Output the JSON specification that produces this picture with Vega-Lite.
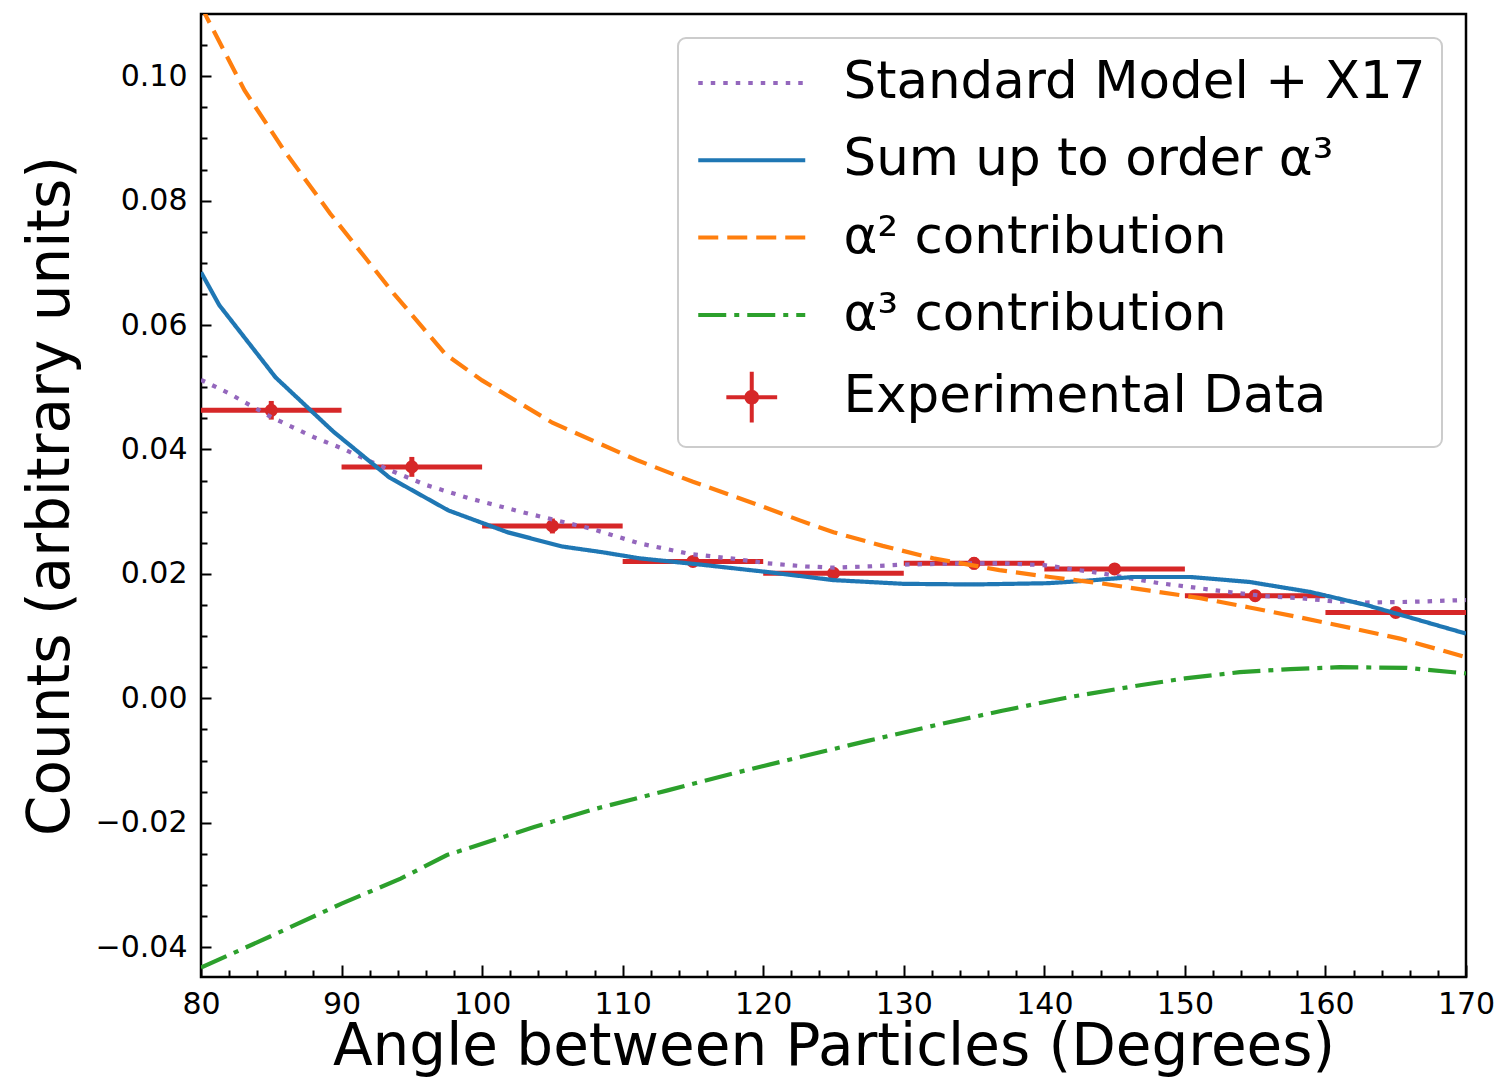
{
  "$schema": "https://vega.github.io/schema/vega-lite/v6.json",
  "width": 1265,
  "height": 963,
  "autosize": {"type": "none"},
  "padding": {"left": 201, "top": 14, "right": 37, "bottom": 108},
  "background": "white",
  "config": {
    "font": "DejaVu Sans",
    "view": {"stroke": "black", "strokeWidth": 2.5},
    "axis": {
      "grid": false, "domain": false,
      "labelFont": "DejaVu Sans", "titleFont": "DejaVu Sans",
      "labelColor": "black", "titleColor": "black", "tickColor": "black",
      "titleFontWeight": "normal", "labelFontSize": 30, "titleFontSize": 58,
      "tickWidth": 2, "labelOverlap": false, "labelFlush": false, "zindex": 1
    },
    "legend": {
      "orient": "top-right", "offset": 24, "title": null,
      "labelFont": "DejaVu Sans", "labelFontSize": 51.5, "labelColor": "black", "labelLimit": 1000,
      "symbolSize": 2862, "symbolStrokeWidth": 4, "symbolType": "stroke",
      "padding": 16, "rowPadding": 22.3, "labelOffset": 62.75, "symbolOffset": 28.75,
      "strokeColor": "#cccccc", "strokeWidth": 2, "fillColor": "white", "cornerRadius": 8
    }
  },
  "datasets": {
    "lines": [
      {"s": "Standard Model + X17", "x": 80, "y": 0.0512},
      {"s": "Standard Model + X17", "x": 82, "y": 0.0490},
      {"s": "Standard Model + X17", "x": 85, "y": 0.0452},
      {"s": "Standard Model + X17", "x": 88, "y": 0.0420},
      {"s": "Standard Model + X17", "x": 90, "y": 0.0402},
      {"s": "Standard Model + X17", "x": 93.4, "y": 0.0367},
      {"s": "Standard Model + X17", "x": 96, "y": 0.0343},
      {"s": "Standard Model + X17", "x": 99, "y": 0.0322},
      {"s": "Standard Model + X17", "x": 102.9, "y": 0.0299},
      {"s": "Standard Model + X17", "x": 107.7, "y": 0.0273},
      {"s": "Standard Model + X17", "x": 111.2, "y": 0.0249},
      {"s": "Standard Model + X17", "x": 114.8, "y": 0.0232},
      {"s": "Standard Model + X17", "x": 118, "y": 0.0224},
      {"s": "Standard Model + X17", "x": 120.3, "y": 0.0217},
      {"s": "Standard Model + X17", "x": 123, "y": 0.0212},
      {"s": "Standard Model + X17", "x": 125, "y": 0.0210},
      {"s": "Standard Model + X17", "x": 127.5, "y": 0.0212},
      {"s": "Standard Model + X17", "x": 130, "y": 0.0215},
      {"s": "Standard Model + X17", "x": 134.5, "y": 0.0217},
      {"s": "Standard Model + X17", "x": 137, "y": 0.0217},
      {"s": "Standard Model + X17", "x": 140, "y": 0.0214},
      {"s": "Standard Model + X17", "x": 144, "y": 0.0201},
      {"s": "Standard Model + X17", "x": 148.2, "y": 0.0185},
      {"s": "Standard Model + X17", "x": 150, "y": 0.0180},
      {"s": "Standard Model + X17", "x": 153.4, "y": 0.0170},
      {"s": "Standard Model + X17", "x": 155.8, "y": 0.0164},
      {"s": "Standard Model + X17", "x": 158.2, "y": 0.0161},
      {"s": "Standard Model + X17", "x": 160.5, "y": 0.0156},
      {"s": "Standard Model + X17", "x": 162.9, "y": 0.0154},
      {"s": "Standard Model + X17", "x": 166, "y": 0.0155},
      {"s": "Standard Model + X17", "x": 170, "y": 0.0158},
      {"s": "Sum up to order α³", "x": 80, "y": 0.0685},
      {"s": "Sum up to order α³", "x": 81.3, "y": 0.0632},
      {"s": "Sum up to order α³", "x": 85.3, "y": 0.0516},
      {"s": "Sum up to order α³", "x": 89.4, "y": 0.0429},
      {"s": "Sum up to order α³", "x": 93.4, "y": 0.0355},
      {"s": "Sum up to order α³", "x": 97.6, "y": 0.0302},
      {"s": "Sum up to order α³", "x": 101.8, "y": 0.0267},
      {"s": "Sum up to order α³", "x": 105.7, "y": 0.0244},
      {"s": "Sum up to order α³", "x": 108.5, "y": 0.0235},
      {"s": "Sum up to order α³", "x": 111.2, "y": 0.0225},
      {"s": "Sum up to order α³", "x": 115.5, "y": 0.0215},
      {"s": "Sum up to order α³", "x": 120.3, "y": 0.0203},
      {"s": "Sum up to order α³", "x": 125, "y": 0.0190},
      {"s": "Sum up to order α³", "x": 130, "y": 0.0184},
      {"s": "Sum up to order α³", "x": 135, "y": 0.0183},
      {"s": "Sum up to order α³", "x": 140.2, "y": 0.0185},
      {"s": "Sum up to order α³", "x": 143, "y": 0.0189},
      {"s": "Sum up to order α³", "x": 146.3, "y": 0.0195},
      {"s": "Sum up to order α³", "x": 150.4, "y": 0.0195},
      {"s": "Sum up to order α³", "x": 154.6, "y": 0.0187},
      {"s": "Sum up to order α³", "x": 158.9, "y": 0.0171},
      {"s": "Sum up to order α³", "x": 162.9, "y": 0.0150},
      {"s": "Sum up to order α³", "x": 166, "y": 0.0130},
      {"s": "Sum up to order α³", "x": 170, "y": 0.0104},
      {"s": "α² contribution", "x": 80, "y": 0.1115},
      {"s": "α² contribution", "x": 80.4, "y": 0.1095},
      {"s": "α² contribution", "x": 83.1, "y": 0.0977},
      {"s": "α² contribution", "x": 85.9, "y": 0.0881},
      {"s": "α² contribution", "x": 89.2, "y": 0.0779},
      {"s": "α² contribution", "x": 93.7, "y": 0.0651},
      {"s": "α² contribution", "x": 97.4, "y": 0.0553},
      {"s": "α² contribution", "x": 100, "y": 0.0511},
      {"s": "α² contribution", "x": 105, "y": 0.0443},
      {"s": "α² contribution", "x": 111, "y": 0.0383},
      {"s": "α² contribution", "x": 115, "y": 0.0348},
      {"s": "α² contribution", "x": 120, "y": 0.0308},
      {"s": "α² contribution", "x": 122.6, "y": 0.0286},
      {"s": "α² contribution", "x": 125, "y": 0.0267},
      {"s": "α² contribution", "x": 128.5, "y": 0.0245},
      {"s": "α² contribution", "x": 132.1, "y": 0.0225},
      {"s": "α² contribution", "x": 136.8, "y": 0.0206},
      {"s": "α² contribution", "x": 140.4, "y": 0.0195},
      {"s": "α² contribution", "x": 144, "y": 0.0185},
      {"s": "α² contribution", "x": 147.5, "y": 0.0173},
      {"s": "α² contribution", "x": 151.1, "y": 0.0161},
      {"s": "α² contribution", "x": 154.6, "y": 0.0146},
      {"s": "α² contribution", "x": 158.2, "y": 0.0130},
      {"s": "α² contribution", "x": 161.8, "y": 0.0113},
      {"s": "α² contribution", "x": 165.3, "y": 0.0096},
      {"s": "α² contribution", "x": 170, "y": 0.0066},
      {"s": "α³ contribution", "x": 80, "y": -0.0433},
      {"s": "α³ contribution", "x": 85, "y": -0.0382},
      {"s": "α³ contribution", "x": 90, "y": -0.0330},
      {"s": "α³ contribution", "x": 94.2, "y": -0.0290},
      {"s": "α³ contribution", "x": 97.5, "y": -0.0252},
      {"s": "α³ contribution", "x": 103.7, "y": -0.0207},
      {"s": "α³ contribution", "x": 108, "y": -0.0178},
      {"s": "α³ contribution", "x": 113.2, "y": -0.0148},
      {"s": "α³ contribution", "x": 118, "y": -0.0120},
      {"s": "α³ contribution", "x": 122.7, "y": -0.0094},
      {"s": "α³ contribution", "x": 127.5, "y": -0.0068},
      {"s": "α³ contribution", "x": 132.3, "y": -0.0043},
      {"s": "α³ contribution", "x": 137, "y": -0.0020},
      {"s": "α³ contribution", "x": 141.8, "y": 0.0002},
      {"s": "α³ contribution", "x": 146.8, "y": 0.0021},
      {"s": "α³ contribution", "x": 150, "y": 0.0032},
      {"s": "α³ contribution", "x": 153.9, "y": 0.0042},
      {"s": "α³ contribution", "x": 157.5, "y": 0.0047},
      {"s": "α³ contribution", "x": 161, "y": 0.0050},
      {"s": "α³ contribution", "x": 165.8, "y": 0.0049},
      {"s": "α³ contribution", "x": 170, "y": 0.0040}
    ],
    "data": [
      {"x": 85, "xlo": 80, "xhi": 90, "y": 0.0463, "ylo": 0.0448, "yhi": 0.0478},
      {"x": 95, "xlo": 90, "xhi": 100, "y": 0.0372, "ylo": 0.0356, "yhi": 0.0388},
      {"x": 105, "xlo": 100, "xhi": 110, "y": 0.0277, "ylo": 0.0265, "yhi": 0.0289},
      {"x": 115, "xlo": 110, "xhi": 120, "y": 0.0220, "ylo": 0.0212, "yhi": 0.0228},
      {"x": 125, "xlo": 120, "xhi": 130, "y": 0.0201, "ylo": 0.0193, "yhi": 0.0209},
      {"x": 135, "xlo": 130, "xhi": 140, "y": 0.0217, "ylo": 0.0207, "yhi": 0.0227},
      {"x": 145, "xlo": 140, "xhi": 150, "y": 0.0208, "ylo": 0.0199, "yhi": 0.0217},
      {"x": 155, "xlo": 150, "xhi": 160, "y": 0.0165, "ylo": 0.0158, "yhi": 0.0172},
      {"x": 165, "xlo": 160, "xhi": 170, "y": 0.0138, "ylo": 0.0131, "yhi": 0.0145}
    ]
  },
  "resolve": {"axis": {"x": "independent", "y": "independent"}},
  "layer": [
    {
      "mark": {"type": "rule", "color": "black", "strokeWidth": 3.5},
      "encoding": {
        "y": {
          "datum": 0, "type": "quantitative",
          "scale": {"domain": [-0.0448, 0.11], "nice": false, "zero": false},
          "axis": {
            "orient": "left", "title": null, "labels": false, "tickSize": -6,
            "values": [-0.035, -0.03, -0.025, -0.015, -0.01, -0.005, 0.005, 0.01, 0.015, 0.025, 0.03, 0.035, 0.045, 0.05, 0.055, 0.065, 0.07, 0.075, 0.085, 0.09, 0.095, 0.105]
          }
        }
      }
    },
    {
      "data": {"name": "data"},
      "mark": {"type": "rule", "color": "#d62728", "strokeWidth": 5, "clip": true},
      "encoding": {
        "x": {
          "field": "xlo", "type": "quantitative",
          "scale": {"domain": [80, 170], "nice": false, "zero": false},
          "axis": {
            "orient": "bottom", "title": null, "labels": false, "tickSize": -7,
            "values": [82, 84, 86, 88, 92, 94, 96, 98, 102, 104, 106, 108, 112, 114, 116, 118, 122, 124, 126, 128, 132, 134, 136, 138, 142, 144, 146, 148, 152, 154, 156, 158, 162, 164, 166, 168]
          }
        },
        "x2": {"field": "xhi"},
        "y": {"field": "y", "type": "quantitative", "axis": null}
      }
    },
    {
      "data": {"name": "data"},
      "mark": {"type": "rule", "color": "#d62728", "strokeWidth": 5},
      "encoding": {
        "x": {"field": "x", "type": "quantitative", "axis": null},
        "y": {"field": "ylo", "type": "quantitative", "axis": null},
        "y2": {"field": "yhi"}
      }
    },
    {
      "data": {"name": "data"},
      "mark": {"type": "point", "filled": true, "color": "#d62728", "size": 170, "opacity": 1},
      "encoding": {
        "x": {"field": "x", "type": "quantitative", "axis": null},
        "y": {"field": "y", "type": "quantitative", "axis": null}
      }
    },
    {
      "data": {"name": "lines"},
      "mark": {"type": "line", "strokeWidth": 4.2, "clip": true},
      "encoding": {
        "x": {
          "field": "x", "type": "quantitative",
          "axis": {
            "orient": "bottom", "values": [80, 90, 100, 110, 120, 130, 140, 150, 160, 170],
            "title": "Angle between Particles (Degrees)", "tickSize": -12, "labelPadding": 24,
            "titleY": 87, "titleBaseline": "alphabetic"
          }
        },
        "y": {
          "field": "y", "type": "quantitative",
          "axis": {
            "orient": "left", "values": [-0.04, -0.02, 0, 0.02, 0.04, 0.06, 0.08, 0.1],
            "labelExpr": "replace(format(datum.value, '.2f'), '-', '−')",
            "title": "Counts (arbitrary units)", "tickSize": -10, "labelPadding": 24,
            "titleX": -133, "titleBaseline": "alphabetic"
          }
        },
        "color": {
          "field": "s", "type": "nominal",
          "scale": {
            "domain": ["Standard Model + X17", "Sum up to order α³", "α² contribution", "α³ contribution", "Experimental Data"],
            "range": ["#9467bd", "#1f77b4", "#ff7f0e", "#2ca02c", "#d62728"]
          },
          "legend": {
            "encoding": {
              "symbols": {
                "shape": {"value": {"expr": "datum.value === 'Experimental Data' ? 'M-0.95,0H0.95M0,-0.95V0.95M0.2,0A0.2,0.2,0,1,1,-0.2,0A0.2,0.2,0,1,1,0.2,0Z' : 'M-2,0H2'"}},
                "fill": {"value": {"expr": "datum.value === 'Experimental Data' ? '#d62728' : 'transparent'"}}
              }
            }
          }
        },
        "strokeDash": {
          "field": "s", "type": "nominal",
          "scale": {
            "domain": ["Standard Model + X17", "Sum up to order α³", "α² contribution", "α³ contribution", "Experimental Data"],
            "range": [[4.5, 8], [1, 0], [20, 9], [28, 8, 5, 8], [1, 0]]
          },
          "legend": {
            "encoding": {
              "symbols": {
                "shape": {"value": {"expr": "datum.value === 'Experimental Data' ? 'M-0.95,0H0.95M0,-0.95V0.95M0.2,0A0.2,0.2,0,1,1,-0.2,0A0.2,0.2,0,1,1,0.2,0Z' : 'M-2,0H2'"}},
                "fill": {"value": {"expr": "datum.value === 'Experimental Data' ? '#d62728' : 'transparent'"}}
              }
            }
          }
        }
      }
    }
  ]
}
